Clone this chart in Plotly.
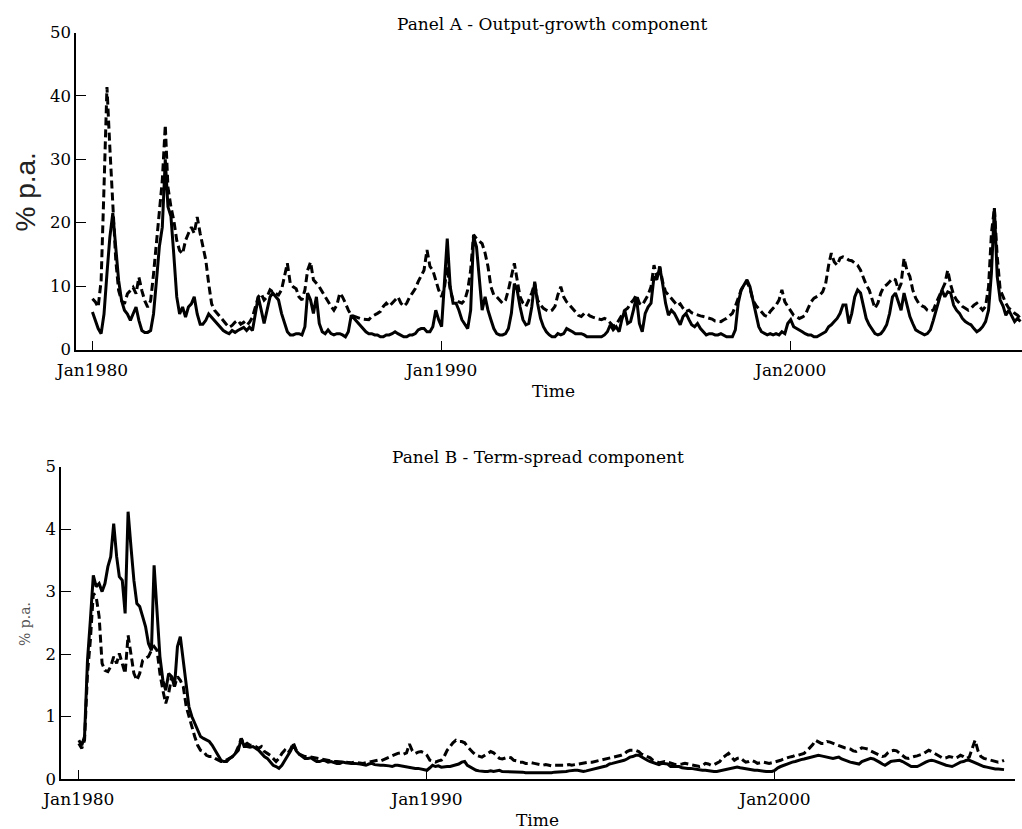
import pandas as pd
import plotly.graph_objects as go

# ---------------- data (monthly, Jan 1980 - Aug 2006) ----------------
months = pd.date_range("1980-01-01", periods=320, freq="MS")

tick_vals = ["1980-01-01", "1990-01-01", "2000-01-01"]
tick_text = ["Jan1980", "Jan1990", "Jan2000"]

# Panel A - Output-growth component (% p.a.)
output_solid = [
    5.9, 4.6, 3.3, 2.5, 5.6, 12, 17.7, 21.5, 16.2, 10.9, 7.7, 6.2,
    5.6, 4.6, 5.6, 6.7, 4.6, 3.0, 2.7, 2.7, 3.0, 5.6, 10.9, 16.2,
    19.3, 30, 22.5, 21, 15, 8.3, 5.6, 6.7, 5.1, 6.7, 7.2, 8.3,
    5.6, 4.0, 4.0, 4.6, 5.6, 5.1, 4.6, 4.0, 3.5, 3.0, 2.7, 2.5,
    3.0, 2.7, 3.0, 3.3, 3.5, 3.0, 3.5, 3.0, 5.6, 8.3, 6.2, 4.1,
    6.2, 8.3, 8.9, 8.3, 7.8, 5.7, 4.1, 2.8, 2.3, 2.3, 2.5, 2.5,
    2.3, 3.6, 8.9, 7.8, 5.7, 8.3, 4.1, 2.8, 2.5, 3.1, 2.5, 2.3,
    2.5, 2.5, 2.3, 2.0, 2.8, 5.4, 4.9, 4.4, 3.9, 3.3, 2.8, 2.5,
    2.5, 2.3, 2.3, 2.0, 2.0, 2.3, 2.3, 2.5, 2.8, 2.5, 2.3, 2.0,
    2.0, 2.3, 2.3, 2.5, 3.1, 3.3, 3.3, 2.8, 2.8, 3.6, 6.2, 4.7,
    3.6, 11, 17.5, 9.9, 7.3, 7.3, 6.2, 4.7, 3.9, 3.3, 6.2, 17.8,
    16.2, 11, 6.2, 8.3, 6.2, 4.7, 3.3, 2.5, 2.3, 2.3, 2.5, 3.3,
    5.7, 10.4, 9.4, 6.7, 4.7, 3.9, 4.1, 6.7, 10.7, 7.3, 4.9, 3.6,
    2.8, 2.3, 2.0, 2.0, 2.5, 2.3, 2.5, 3.3, 3.1, 2.8, 2.5, 2.5,
    2.5, 2.3, 2.0, 2.0, 2.0, 2.0, 2.0, 2.0, 2.3, 2.8, 3.9, 3.1,
    3.6, 2.8, 4.7, 6.2, 4.1, 4.4, 6.2, 8.3, 4.1, 2.8, 5.7, 6.7,
    7.3, 11.5, 11, 13, 10.4, 7.3, 5.4, 6.2, 5.7, 4.7, 3.9, 5.2,
    5.7, 4.7, 3.9, 3.6, 4.1, 3.3, 2.8, 2.3, 2.5, 2.5, 2.3, 2.3,
    2.5, 2.3, 2.0, 2.0, 2.0, 3.1, 7.3, 9.4, 10.2, 11, 9.9, 7.8,
    5.7, 3.6, 2.8, 2.5, 2.3, 2.5, 2.3, 2.5, 2.3, 2.8, 2.5, 4.1,
    4.7, 3.6, 3.3, 3.1, 2.8, 2.5, 2.3, 2.3, 2.0, 2.0, 2.3, 2.5,
    2.8, 3.6, 3.9, 4.4, 4.9, 5.7, 7.0, 7.0, 4.1, 5.7, 8.3, 9.4,
    8.9, 6.8, 4.9, 3.9, 3.1, 2.5, 2.3, 2.5, 3.1, 3.9, 5.7, 8.3,
    8.9, 7.3, 6.2, 8.9, 7.0, 5.2, 4.1, 3.1, 2.8, 2.5, 2.3, 2.5,
    3.1, 4.6, 6.2, 8.1, 9.4, 8.3, 9.1, 8.9, 7.0, 6.2, 5.7, 4.9,
    4.4, 4.1, 3.9, 3.3, 2.8, 3.1, 3.6, 4.4, 6.2, 12, 22.3, 11.5,
    7.8, 6.8, 5.4, 6.2, 5.2, 4.4, 4.9, 4.4,
]

output_dashed = [
    8.0, 7.5, 6.7, 10.9, 25.6, 41.4, 31.9, 22.5, 14.1, 9.3, 7.7, 7.2,
    8.8, 9.3, 9.8, 8.8, 11.4, 9.3, 7.7, 6.7, 7.7, 11.9, 17.2, 22.5,
    26.7, 35.4, 25.6, 22.5, 20.4, 17.2, 15.6, 15.1, 17.2, 18.3, 19.3, 18.3,
    20.9, 18.3, 16.2, 14.1, 10.4, 7.2, 6.2, 5.6, 5.1, 4.6, 4.0, 3.5,
    3.8, 4.3, 4.6, 4.0, 4.3, 3.8, 4.3, 5.1, 6.7, 8.3, 8.8, 7.8,
    8.3, 9.4, 9.1, 8.9, 8.6, 9.4, 11.5, 13.6, 10.4, 9.9, 9.6, 8.3,
    7.8, 9.4, 12.5, 13.8, 11.0, 10.4, 9.9, 9.1, 8.3, 7.5, 6.8, 6.2,
    7.0, 8.9, 8.3, 7.3, 6.2, 5.4, 5.2, 5.1, 4.9, 4.8, 4.7, 4.7,
    5.2, 5.4, 5.7, 6.0, 6.8, 7.3, 6.8, 7.3, 7.8, 8.3, 7.3, 6.8,
    7.3, 8.3, 8.9, 9.6, 10.7, 11.5, 12.5, 15.7, 13.1, 12.5, 11.0, 9.4,
    8.3, 9.9, 13.1, 9.4, 7.8, 7.8, 7.5, 7.3, 7.8, 9.4, 12.5, 18.1,
    17.5, 17.0, 16.7, 15.2, 13.1, 9.9, 8.6, 8.3, 7.8, 7.3, 7.8, 9.4,
    11.5, 13.6, 11.0, 8.3, 7.3, 6.8, 7.8, 8.9, 10.4, 7.8, 7.0, 6.5,
    6.2, 6.0, 6.2, 6.8, 8.6, 9.9, 8.3, 7.5, 7.0, 6.5, 6.0, 5.4,
    5.2, 5.7, 5.7, 5.3, 5.1, 4.9, 4.8, 4.7, 4.9, 4.7, 4.1, 3.7,
    3.9, 4.7, 5.4, 6.2, 6.5, 7.3, 7.8, 8.6, 7.3, 7.0, 7.8, 8.6,
    9.9, 13.3, 11.5, 13.1, 10.7, 9.1, 8.6, 8.1, 7.5, 6.9, 7.2, 6.5,
    6.0, 6.2, 5.8, 5.6, 5.4, 5.3, 5.2, 5.1, 4.9, 4.8, 4.5, 4.4,
    4.4, 4.7, 4.9, 5.3, 5.7, 6.8, 8.1, 9.4, 10.2, 10.7, 9.6, 7.8,
    7.0, 6.5, 6.0, 5.4, 5.2, 6.0, 6.5, 7.0, 7.8, 9.4, 7.5, 6.8,
    6.0, 5.4, 5.2, 4.9, 5.1, 5.4, 6.5, 7.5, 8.1, 8.3, 8.6, 9.1,
    10.4, 13.3, 15.2, 13.8, 13.3, 14.4, 14.6, 14.4, 14.1, 14.0, 13.7, 13.3,
    12.5, 11.2, 10.2, 9.4, 8.1, 6.5, 7.3, 8.9, 9.9, 10.2, 10.7, 11.2,
    11.0, 9.4, 10.4, 14.4, 12.5, 11.5, 9.4, 8.1, 7.3, 6.9, 6.7, 6.2,
    6.0, 6.2, 7.3, 8.3, 9.4, 10.4, 12.5, 10.2, 8.6, 7.8, 7.3, 6.8,
    6.5, 6.2, 6.5, 7.0, 7.3, 6.8, 6.2, 6.8, 9.9, 18.3, 22.3, 14.6,
    9.4, 8.3, 7.3, 6.5, 6.2, 5.7, 5.4, 4.9,
]

# Panel B - Term-spread component (% p.a.)
spread_solid = [
    0.62, 0.54, 0.68, 1.9, 2.54, 3.26, 3.08, 3.13, 3.0, 3.13, 3.4, 3.56,
    4.09, 3.56, 3.24, 3.18, 2.65, 4.28, 3.72, 3.18, 2.81, 2.76, 2.6, 2.44,
    2.17, 2.06, 3.42, 2.76, 1.96, 1.58, 1.42, 1.69, 1.64, 1.48, 2.12, 2.28,
    1.9, 1.48, 1.16, 1.0, 0.89, 0.78, 0.68, 0.65, 0.62, 0.6, 0.54, 0.46,
    0.38, 0.3, 0.28, 0.28, 0.33, 0.36, 0.41, 0.46, 0.65, 0.52, 0.52, 0.51,
    0.52, 0.49, 0.46, 0.41, 0.36, 0.33, 0.28, 0.22, 0.2, 0.17, 0.22, 0.3,
    0.36, 0.45, 0.55, 0.45, 0.4, 0.36, 0.33, 0.33, 0.34, 0.31, 0.28, 0.28,
    0.3, 0.29, 0.27, 0.28, 0.26, 0.25, 0.25, 0.27, 0.26, 0.25, 0.25, 0.25,
    0.25, 0.24, 0.23, 0.22, 0.24, 0.25, 0.23, 0.22, 0.22, 0.22, 0.22, 0.21,
    0.2, 0.22, 0.22, 0.21, 0.2, 0.19, 0.18, 0.17, 0.17, 0.17, 0.16, 0.15,
    0.14, 0.18, 0.22, 0.2, 0.21, 0.19, 0.2, 0.2, 0.2, 0.21, 0.23, 0.24,
    0.27, 0.28, 0.22, 0.19, 0.16, 0.14, 0.13, 0.12, 0.12, 0.12, 0.13, 0.12,
    0.13, 0.14, 0.12, 0.12, 0.12, 0.12, 0.12, 0.12, 0.12, 0.11, 0.1, 0.1,
    0.09, 0.09, 0.09, 0.09, 0.1, 0.1, 0.1, 0.1, 0.11, 0.11, 0.12, 0.12,
    0.12, 0.13, 0.14, 0.14, 0.14, 0.13, 0.12, 0.13, 0.14, 0.15, 0.16, 0.17,
    0.19, 0.2, 0.21, 0.24, 0.25, 0.26, 0.28, 0.29, 0.3, 0.32, 0.35, 0.36,
    0.38, 0.38, 0.35, 0.33, 0.3, 0.28, 0.26, 0.25, 0.23, 0.25, 0.25, 0.24,
    0.2, 0.2, 0.2, 0.2, 0.18, 0.17, 0.17, 0.17, 0.16, 0.15, 0.14, 0.14,
    0.14, 0.13, 0.12, 0.12, 0.12, 0.13, 0.14, 0.15, 0.16, 0.17, 0.18, 0.19,
    0.18, 0.17, 0.17, 0.15, 0.14, 0.14, 0.14, 0.13, 0.12, 0.12, 0.12, 0.12,
    0.14, 0.18, 0.2, 0.22, 0.24, 0.25, 0.27, 0.28, 0.3, 0.31, 0.32, 0.33,
    0.34, 0.35, 0.36, 0.38, 0.37, 0.36, 0.35, 0.34, 0.33, 0.34, 0.35, 0.32,
    0.3, 0.28, 0.27, 0.26, 0.25, 0.24, 0.28, 0.3, 0.31, 0.33, 0.32, 0.3,
    0.27, 0.24, 0.22, 0.25, 0.28, 0.29, 0.3, 0.3, 0.28, 0.25, 0.22, 0.2,
    0.2, 0.2, 0.22, 0.25, 0.27, 0.29, 0.3, 0.29, 0.27, 0.25, 0.23, 0.22,
    0.21, 0.2, 0.22, 0.25, 0.27, 0.28, 0.3, 0.3, 0.28, 0.25, 0.23, 0.22,
    0.2, 0.19, 0.18, 0.17, 0.16, 0.16, 0.15, 0.15,
]

spread_dashed = [
    0.57, 0.49, 0.62, 1.69, 2.22, 2.97, 2.92, 2.6, 1.85, 1.74, 1.72, 1.8,
    1.96, 1.85, 2.01, 1.85, 1.69, 2.3, 2.01, 1.69, 1.58, 1.69, 1.9, 1.93,
    1.96, 2.06, 2.12, 2.06, 1.69, 1.42, 1.21, 1.37, 1.64, 1.48, 1.64, 1.58,
    1.48, 1.16, 1.0, 0.84, 0.68, 0.54, 0.46, 0.44, 0.38, 0.36, 0.36, 0.33,
    0.3, 0.28, 0.28, 0.3, 0.33, 0.36, 0.41, 0.52, 0.65, 0.54, 0.57, 0.54,
    0.54, 0.52, 0.49, 0.52, 0.44, 0.41, 0.38, 0.33, 0.28, 0.33, 0.41, 0.46,
    0.41, 0.48, 0.58, 0.46, 0.4, 0.38, 0.36, 0.36, 0.35, 0.34, 0.33, 0.32,
    0.31, 0.3, 0.3, 0.29, 0.28, 0.28, 0.27, 0.27, 0.27, 0.26, 0.26, 0.27,
    0.26, 0.26, 0.25, 0.26, 0.27, 0.28, 0.3, 0.3, 0.29, 0.31, 0.33, 0.35,
    0.38, 0.39, 0.41, 0.42, 0.4, 0.42, 0.56, 0.45, 0.41, 0.43, 0.44, 0.42,
    0.38, 0.3, 0.28, 0.27, 0.29, 0.3, 0.36, 0.46, 0.52, 0.58, 0.62, 0.6,
    0.6, 0.58, 0.52, 0.46, 0.42, 0.38, 0.36, 0.35, 0.38, 0.41, 0.44, 0.42,
    0.38, 0.33, 0.32, 0.33, 0.35, 0.34, 0.3, 0.29, 0.27, 0.27, 0.25, 0.25,
    0.26, 0.25, 0.24, 0.23, 0.22, 0.23, 0.22, 0.21, 0.22, 0.22, 0.21, 0.22,
    0.22, 0.23, 0.22, 0.23, 0.24, 0.25, 0.25, 0.26, 0.27, 0.27, 0.28, 0.29,
    0.3, 0.31, 0.32, 0.33, 0.34, 0.36, 0.37, 0.38, 0.4, 0.44, 0.46, 0.46,
    0.46, 0.44, 0.4, 0.38, 0.36, 0.34, 0.3, 0.28, 0.26, 0.27, 0.28, 0.27,
    0.25, 0.24, 0.23, 0.23, 0.24, 0.25, 0.24, 0.23, 0.22, 0.21, 0.2, 0.21,
    0.25, 0.24, 0.22, 0.23, 0.26, 0.28, 0.34, 0.38, 0.41, 0.35, 0.3, 0.33,
    0.34, 0.3, 0.27, 0.28, 0.3, 0.28, 0.25, 0.26, 0.27, 0.26, 0.25, 0.26,
    0.27, 0.28, 0.3, 0.32, 0.34, 0.35, 0.36, 0.38, 0.38, 0.39, 0.41, 0.45,
    0.5, 0.55, 0.62, 0.6, 0.57, 0.57, 0.6, 0.59, 0.57, 0.56, 0.54, 0.52,
    0.5, 0.49, 0.48, 0.45, 0.44, 0.47, 0.5, 0.49, 0.48, 0.45, 0.43, 0.41,
    0.38, 0.36, 0.37, 0.42, 0.45, 0.46, 0.45, 0.41, 0.37, 0.34, 0.33, 0.35,
    0.36, 0.37, 0.38, 0.4, 0.43, 0.46, 0.44, 0.41, 0.38, 0.35, 0.33, 0.34,
    0.36, 0.35, 0.33, 0.35, 0.38, 0.36, 0.33, 0.35, 0.5, 0.62, 0.45, 0.36,
    0.33, 0.32, 0.3, 0.29, 0.28, 0.27, 0.28, 0.3,
]

# ---------------- figure ----------------
W, H = 1022, 829
SERIF = "DejaVu Serif"
LW = 3
DASH = "8px,4px"

fig = go.Figure()
fig.add_trace(go.Scatter(x=months, y=output_dashed, mode="lines", xaxis="x", yaxis="y",
                         line=dict(color="black", width=LW, dash=DASH), showlegend=False))
fig.add_trace(go.Scatter(x=months, y=output_solid, mode="lines", xaxis="x", yaxis="y",
                         line=dict(color="black", width=LW), showlegend=False))
fig.add_trace(go.Scatter(x=months, y=spread_dashed, mode="lines", xaxis="x2", yaxis="y2",
                         line=dict(color="black", width=LW, dash=DASH), showlegend=False))
fig.add_trace(go.Scatter(x=months, y=spread_solid, mode="lines", xaxis="x2", yaxis="y2",
                         line=dict(color="black", width=LW), showlegend=False))


def px_x(p):
    return p / W


def px_y(p):
    return 1 - p / H


xtick_font = dict(family=SERIF, size=17, color="black")
ytick_font = dict(family=SERIF, size=16.5, color="black")
common_x = dict(type="date", tickmode="array", tickvals=tick_vals, ticktext=tick_text,
                ticks="inside", ticklen=9, tickwidth=1.2, tickcolor="black",
                showline=True, linecolor="black", linewidth=1.5, showgrid=False,
                zeroline=False, tickfont=xtick_font, fixedrange=True, automargin=False,
                ticklabelstandoff=4)
common_y = dict(ticks="inside", ticklen=10, tickwidth=1.2, tickcolor="black",
                showline=True, linecolor="black", linewidth=1.5, showgrid=False,
                zeroline=False, tickfont=ytick_font, fixedrange=True, automargin=False)

fig.update_layout(
    width=W, height=H,
    margin=dict(l=0, r=0, t=0, b=0, pad=0),
    paper_bgcolor="white", plot_bgcolor="white",
    xaxis=dict(common_x, domain=[px_x(76), px_x(1022)], anchor="y",
               range=["1979-07-13", "2006-08-17"]),
    yaxis=dict(common_y, domain=[px_y(349.5), px_y(32.5)], anchor="x",
               range=[0, 50], tickvals=[0, 10, 20, 30, 40, 50]),
    xaxis2=dict(common_x, domain=[px_x(61), px_x(1015)], anchor="y2",
                range=["1979-06-28", "2006-11-24"]),
    yaxis2=dict(common_y, domain=[px_y(779), px_y(466.7)], anchor="x2",
                range=[0, 5], tickvals=[0, 1, 2, 3, 4, 5]),
)

ann = [
    dict(text="Panel A - Output-growth component", x=px_x(552), y=px_y(24),
         font=dict(family=SERIF, size=17, color="black")),
    dict(text="Panel B - Term-spread component", x=px_x(537.5), y=px_y(457),
         font=dict(family=SERIF, size=17, color="black")),
    dict(text="Time", x=px_x(553), y=px_y(391), font=dict(family=SERIF, size=17, color="black")),
    dict(text="Time", x=px_x(537), y=px_y(820), font=dict(family=SERIF, size=17, color="black")),
    dict(text="% p.a.", x=px_x(25), y=px_y(192.5), textangle=-90,
         font=dict(family="Liberation Sans", size=28, color="#222")),
    dict(text="% p.a.", x=px_x(25), y=px_y(624), textangle=-90,
         font=dict(family=SERIF, size=14, color="#555")),
]
for a in ann:
    a.update(xref="paper", yref="paper", showarrow=False, xanchor="center", yanchor="middle")
fig.update_layout(annotations=ann)

fig.write_html("out.html", config={"displayModeBar": False},
               post_script="document.body.style.margin='0';document.body.style.overflow='hidden';")
